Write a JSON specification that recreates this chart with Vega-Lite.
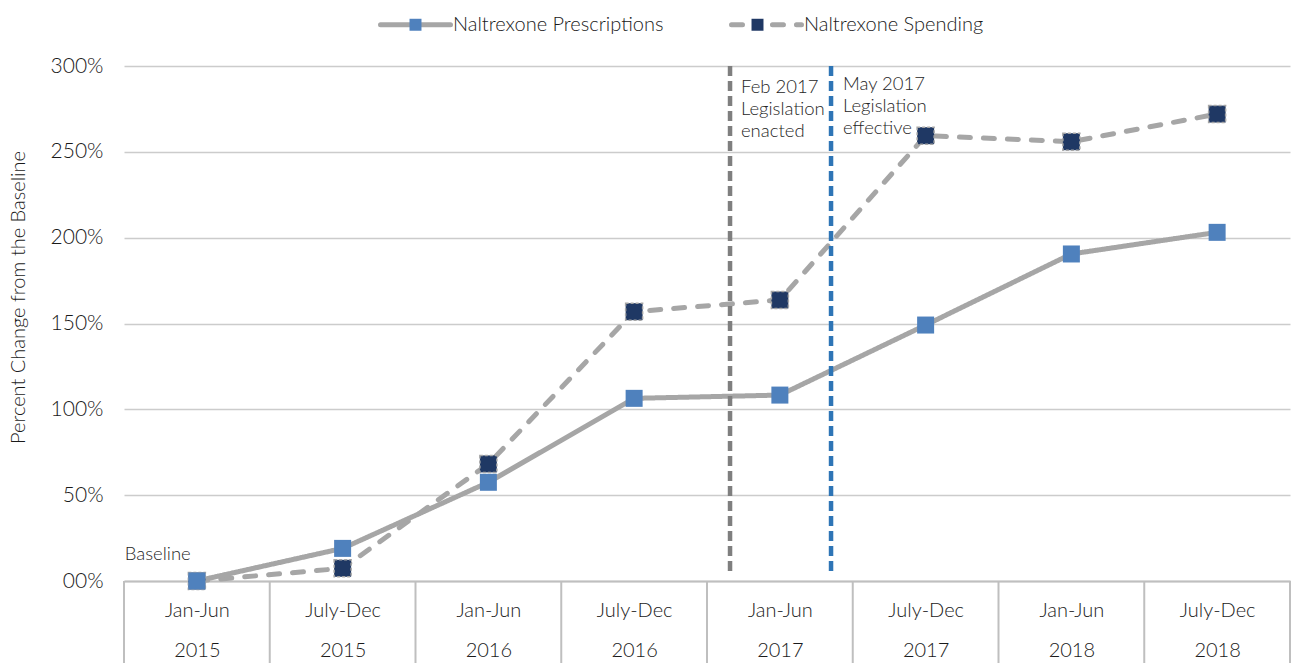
{
  "$schema": "https://vega.github.io/schema/vega-lite/v6.json",
  "width": 1166,
  "height": 515,
  "autosize": {"type": "none"},
  "padding": {"left": 124, "top": 66, "right": 1, "bottom": 82},
  "background": "white",
  "config": {
    "view": {"stroke": null},
    "font": "Lato",
    "axis": {"labelFont": "Lato", "titleFont": "Lato", "labelFontWeight": 300, "titleFontWeight": 300},
    "legend": {"labelFont": "Lato", "labelLimit": 0, "padding": 0, "labelFontWeight": 300}
  },
  "datasets": {
    "series": [
      {"period": "Jan-Jun 2015", "t": 0.5, "series": "Naltrexone Spending", "value": 0},
      {"period": "July-Dec 2015", "t": 1.5, "series": "Naltrexone Spending", "value": 7.4},
      {"period": "Jan-Jun 2016", "t": 2.5, "series": "Naltrexone Spending", "value": 68.2},
      {"period": "July-Dec 2016", "t": 3.5, "series": "Naltrexone Spending", "value": 156.9},
      {"period": "Jan-Jun 2017", "t": 4.5, "series": "Naltrexone Spending", "value": 163.7},
      {"period": "July-Dec 2017", "t": 5.5, "series": "Naltrexone Spending", "value": 259.4},
      {"period": "Jan-Jun 2018", "t": 6.5, "series": "Naltrexone Spending", "value": 255.9},
      {"period": "July-Dec 2018", "t": 7.5, "series": "Naltrexone Spending", "value": 272.0},
      {"period": "Jan-Jun 2015", "t": 0.5, "series": "Naltrexone Prescriptions", "value": 0},
      {"period": "July-Dec 2015", "t": 1.5, "series": "Naltrexone Prescriptions", "value": 19.0},
      {"period": "Jan-Jun 2016", "t": 2.5, "series": "Naltrexone Prescriptions", "value": 57.5},
      {"period": "July-Dec 2016", "t": 3.5, "series": "Naltrexone Prescriptions", "value": 106.4},
      {"period": "Jan-Jun 2017", "t": 4.5, "series": "Naltrexone Prescriptions", "value": 108.3},
      {"period": "July-Dec 2017", "t": 5.5, "series": "Naltrexone Prescriptions", "value": 149.1},
      {"period": "Jan-Jun 2018", "t": 6.5, "series": "Naltrexone Prescriptions", "value": 190.5},
      {"period": "July-Dec 2018", "t": 7.5, "series": "Naltrexone Prescriptions", "value": 203.1}
    ],
    "dividers": [
      {"b": 0, "top": 0, "bottom": -47.8},
      {"b": 1, "top": 0, "bottom": -47.8},
      {"b": 2, "top": 0, "bottom": -47.8},
      {"b": 3, "top": 0, "bottom": -47.8},
      {"b": 4, "top": 0, "bottom": -47.8},
      {"b": 5, "top": 0, "bottom": -47.8},
      {"b": 6, "top": 0, "bottom": -47.8},
      {"b": 7, "top": 0, "bottom": -47.8},
      {"b": 8, "top": 0, "bottom": -47.8}
    ],
    "events": [
      {"event": "Feb 2017 Legislation enacted", "x": 4.158, "top": 300, "bottom": 4.5},
      {"event": "May 2017 Legislation effective", "x": 4.851, "top": 300, "bottom": 4.5}
    ],
    "notes": [
      {"note": "Feb 2017\nLegislation\nenacted", "x": 4.233, "y": 284.3},
      {"note": "May 2017\nLegislation\neffective", "x": 4.933, "y": 286},
      {"note": "Baseline", "x": 0.005, "y": 12.2}
    ]
  },
  "layer": [
    {
      "data": {"name": "dividers"},
      "mark": {"type": "rule", "strokeWidth": 2, "color": "#bfbfbf"},
      "encoding": {
        "x": {"field": "b", "type": "quantitative"},
        "y": {"field": "top", "type": "quantitative"},
        "y2": {"field": "bottom"}
      }
    },
    {
      "data": {"name": "series"},
      "mark": {"type": "line", "strokeWidth": 5, "color": "#a6a6a6", "strokeCap": "round"},
      "encoding": {
        "x": {
          "field": "t", "type": "quantitative",
          "scale": {"domain": [0, 8], "nice": false, "zero": false},
          "axis": {
            "orient": "bottom", "values": [0.5, 1.5, 2.5, 3.5, 4.5, 5.5, 6.5, 7.5],
            "labelExpr": "datum.value < 1 ? ['Jan-Jun', '2015'] : datum.value < 2 ? ['July-Dec', '2015'] : datum.value < 3 ? ['Jan-Jun', '2016'] : datum.value < 4 ? ['July-Dec', '2016'] : datum.value < 5 ? ['Jan-Jun', '2017'] : datum.value < 6 ? ['July-Dec', '2017'] : datum.value < 7 ? ['Jan-Jun', '2018'] : ['July-Dec', '2018']",
            "labelAlign": "center", "labelFlush": false, "labelOverlap": false, "labelBound": false,
            "labelFontSize": 20, "labelLineHeight": 40, "labelPadding": 19, "labelColor": "#1a1a1a",
            "ticks": false,
            "domain": true, "domainColor": "#bfbfbf", "domainWidth": 2, "grid": false, "title": null
          }
        },
        "y": {
          "field": "value", "type": "quantitative",
          "scale": {"domain": [0, 300], "nice": false},
          "axis": {
            "values": [0, 50, 100, 150, 200, 250, 300],
            "labelExpr": "datum.value == 0 ? '00%' : datum.value + '%'",
            "grid": true, "gridColor": "#cccccc", "gridWidth": 1.5,
            "domain": false, "ticks": false,
            "labelFontSize": 21, "labelPadding": 21, "labelColor": "#1a1a1a",
            "title": "Percent Change from the Baseline",
            "titleFontSize": 20, "titleColor": "#1a1a1a",
            "titleX": -106, "titleY": 231, "titleBaseline": "middle", "titleAngle": -90
          }
        },
        "strokeDash": {
          "field": "series", "type": "nominal",
          "scale": {"range": [[1, 0], [11, 13]]},
          "legend": {
            "title": null, "orient": "none", "legendX": 254, "legendY": -79, "direction": "horizontal",
            "symbolType": "M-1,0H-0.17M0.17,0H1", "symbolSize": 4900, "symbolStrokeWidth": 5,
            "symbolStrokeColor": "#a6a6a6",
            "labelFontSize": 20, "labelColor": "#1a1a1a", "labelOffset": 0, "columnPadding": 57,
            "encode": {"symbols": {"update": {"strokeCap": {"value": "round"}, "stroke": {"value": "#a6a6a6"}}}}
          }
        }
      }
    },
    {
      "data": {"name": "events"},
      "mark": {"type": "rule", "strokeWidth": 4.5, "strokeDash": [10, 5]},
      "encoding": {
        "x": {"field": "x", "type": "quantitative"},
        "y": {"field": "top", "type": "quantitative"},
        "y2": {"field": "bottom"},
        "stroke": {
          "field": "event", "type": "nominal",
          "scale": {"domain": ["Feb 2017 Legislation enacted", "May 2017 Legislation effective"], "range": ["#7f7f7f", "#2e75b6"]},
          "legend": null
        }
      }
    },
    {
      "data": {"name": "series"},
      "mark": {"type": "square", "size": 289, "filled": true, "opacity": 1, "strokeWidth": 1.5, "strokeDash": [3, 2]},
      "encoding": {
        "x": {"field": "t", "type": "quantitative"},
        "y": {"field": "value", "type": "quantitative"},
        "color": {
          "field": "series", "type": "nominal",
          "scale": {"domain": ["Naltrexone Prescriptions", "Naltrexone Spending"], "range": ["#4f81bd", "#1f3864"]},
          "legend": {
            "title": null, "orient": "none", "legendX": 254, "legendY": -79, "direction": "horizontal",
            "symbolType": "M-0.171,-0.171H0.171V0.171H-0.171Z", "symbolSize": 4900, "symbolStrokeWidth": 5,
            "symbolStrokeColor": "transparent",
            "labelExpr": "''",
            "labelFontSize": 20, "labelOffset": 0, "columnPadding": 267,
            "encode": {"symbols": {"update": {"stroke": {"value": "transparent"}, "opacity": {"value": 1}}}}
          }
        },
        "stroke": {
          "condition": {"test": "datum.series === 'Naltrexone Spending'", "value": "#a6a6a6"},
          "value": "transparent"
        }
      }
    },
    {
      "data": {"name": "notes"},
      "mark": {"type": "text", "align": "left", "baseline": "alphabetic", "fontSize": 18.5, "fontWeight": 300, "lineBreak": "\n", "lineHeight": 22, "color": "#262626", "font": "Lato"},
      "encoding": {
        "x": {"field": "x", "type": "quantitative"},
        "y": {"field": "y", "type": "quantitative"},
        "text": {"field": "note", "type": "nominal"}
      }
    }
  ]
}
